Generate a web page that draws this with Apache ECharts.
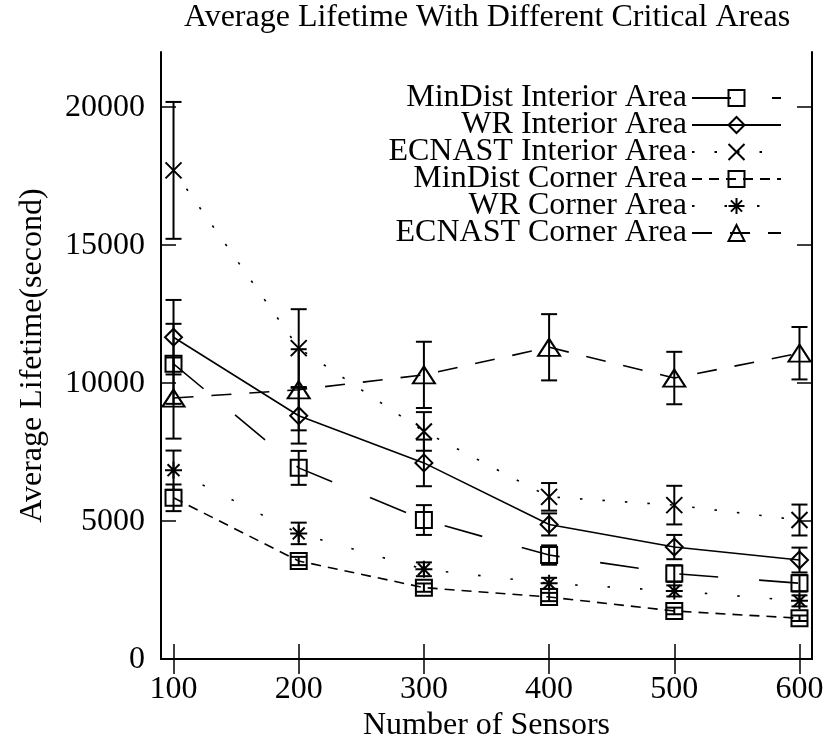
<!DOCTYPE html>
<html>
<head>
<meta charset="utf-8">
<script src="https://cdn.jsdelivr.net/npm/echarts@6/dist/echarts.min.js"></script>
<style>
  html, body { margin: 0; padding: 0; background: #fff; }
  #chart { width: 828px; height: 747px; }
</style>
</head>
<body>
<div id="chart"></div>
<script>
// Number of sensors on the x axis
const sensors = [100, 200, 300, 400, 500, 600];
const xTicks = [100, 200, 300, 400, 500, 600];
const yTicks = [0, 5000, 10000, 15000, 20000];

// Mean lifetime (seconds) and error-bar half widths for each configuration
const minDistInterior    = [10700, 6930, 5040, 3770, 3100, 2750];
const minDistInteriorErr = [1450, 615, 540, 350, 300, 300];
const wrInterior         = [11665, 8820, 7110, 4880, 4060, 3590];
const wrInteriorErr      = [1350, 1010, 845, 400, 440, 450];
const ecnastInterior     = [17710, 11270, 8250, 5880, 5580, 5040];
const ecnastInteriorErr  = [2480, 1410, 700, 500, 700, 560];
const minDistCorner      = [5845, 3555, 2590, 2250, 1745, 1480];
const minDistCornerErr   = [483, 150, 150, 150, 120, 100];
const wrCorner           = [6845, 4555, 3255, 2745, 2470, 2110];
const wrCornerErr        = [712, 390, 250, 200, 200, 200];
const ecnastCorner       = [9460, 9760, 10300, 11300, 10185, 11085];
const ecnastCornerErr    = [1470, 1470, 1200, 1200, 950, 950];

const FONT = "'Liberation Serif', 'Times New Roman', serif";
const FS = 32;

// Point shapes drawn as outlines
const SYM_X = 'path://M0,0L10,10M10,0L0,10';
const SYM_STAR = 'path://M5,0L5,10M0,5L10,5M1.5,1.5L8.5,8.5M8.5,1.5L1.5,8.5';

const seriesDefs = [
  { name: 'MinDist Interior Area', values: minDistInterior, err: minDistInteriorErr,
    symbol: 'rect', size: 16, dash: [39, 41] },
  { name: 'WR Interior Area', values: wrInterior, err: wrInteriorErr,
    symbol: 'diamond', size: 17, dash: 'solid' },
  { name: 'ECNAST Interior Area', values: ecnastInterior, err: ecnastInteriorErr,
    symbol: SYM_X, size: 16, dash: [2.5, 20] },
  { name: 'MinDist Corner Area', values: minDistCorner, err: minDistCornerErr,
    symbol: 'rect', size: 16, dash: [10, 7] },
  { name: 'WR Corner Area', values: wrCorner, err: wrCornerErr,
    symbol: SYM_STAR, size: 17, dash: [2.5, 30] },
  { name: 'ECNAST Corner Area', values: ecnastCorner, err: ecnastCornerErr,
    symbol: 'triangle', size: [22, 17], dash: [20, 18] }
];

// Error bars: vertical segment with a short cap at each end
const errorData = [];
seriesDefs.forEach(function (s) {
  sensors.forEach(function (x, i) {
    errorData.push([x, s.values[i], s.err[i]]);
  });
});

function renderErrorBar(params, api) {
  const x = api.value(0), y = api.value(1), e = api.value(2);
  const hi = api.coord([x, y + e]);
  const lo = api.coord([x, y - e]);
  const w = 8;
  const st = { stroke: '#000', lineWidth: 2 };
  return {
    type: 'group',
    children: [
      { type: 'line', shape: { x1: hi[0], y1: hi[1], x2: lo[0], y2: lo[1] }, style: st },
      { type: 'line', shape: { x1: hi[0] - w, y1: hi[1], x2: hi[0] + w, y2: hi[1] }, style: st },
      { type: 'line', shape: { x1: lo[0] - w, y1: lo[1], x2: lo[0] + w, y2: lo[1] }, style: st }
    ]
  };
}

const lineSeries = seriesDefs.map(function (s) {
  return {
    name: s.name,
    type: 'line',
    data: sensors.map(function (x, i) { return [x, s.values[i]]; }),
    symbol: s.symbol,
    symbolSize: s.size,
    showAllSymbol: true,
    animation: false,
    z: 3,
    lineStyle: { color: '#000', width: 1.6, type: s.dash },
    itemStyle: { color: 'rgba(0,0,0,0)', borderColor: '#000', borderWidth: 2 },
    emphasis: { disabled: true }
  };
});

const tickLabelStyle = { fontFamily: FONT, fontSize: FS, color: '#000' };
const axisLineStyle = { show: true, lineStyle: { color: '#000', width: 2 } };
const plainNumber = function (v) { return String(v); };

const chart = echarts.init(document.getElementById('chart'), null, { renderer: 'canvas' });
chart.setOption({
  animation: false,
  backgroundColor: '#fff',
  graphic: [{
    type: 'text',
    x: 487, y: 18,
    style: {
      text: 'Average Lifetime With Different Critical Areas',
      font: FS + 'px ' + FONT,
      fill: '#000',
      textAlign: 'center',
      textVerticalAlign: 'middle'
    }
  }],
  grid: { left: 161, right: 16, top: 52, bottom: 87, containLabel: false },
  legend: {
    data: seriesDefs.map(function (s) { return s.name; }),
    orient: 'vertical',
    align: 'right',
    right: 46,
    top: 82,
    padding: 0,
    itemGap: -5,
    itemWidth: 89,
    itemHeight: 20,
    selectedMode: false,
    textStyle: { fontFamily: FONT, fontSize: FS, color: '#000' }
  },
  xAxis: [{
    type: 'value', min: 90, max: 610, position: 'bottom',
    name: 'Number of Sensors', nameLocation: 'middle', nameGap: 38,
    nameTextStyle: { fontFamily: FONT, fontSize: FS, color: '#000' },
    axisLine: axisLineStyle,
    axisTick: { show: true, inside: true, length: 15, customValues: xTicks, lineStyle: { color: '#000', width: 1.5 } },
    axisLabel: { customValues: xTicks, margin: 14, formatter: plainNumber, ...tickLabelStyle },
    splitLine: { show: false }
  }, {
    type: 'value', min: 90, max: 610, position: 'top',
    axisLine: axisLineStyle,
    axisTick: { show: true, inside: true, length: 15, customValues: xTicks, lineStyle: { color: '#000', width: 1.5 } },
    axisLabel: { show: false },
    splitLine: { show: false }
  }],
  yAxis: [{
    type: 'value', min: 0, max: 22000, position: 'left',
    name: 'Average Lifetime(second)', nameLocation: 'middle', nameGap: 112,
    nameTextStyle: { fontFamily: FONT, fontSize: FS, color: '#000' },
    axisLine: axisLineStyle,
    axisTick: { show: true, inside: true, length: 15, customValues: yTicks, lineStyle: { color: '#000', width: 1.5 } },
    axisLabel: { customValues: yTicks, margin: 16, formatter: plainNumber, ...tickLabelStyle },
    splitLine: { show: false }
  }, {
    type: 'value', min: 0, max: 22000, position: 'right',
    axisLine: axisLineStyle,
    axisTick: { show: true, inside: true, length: 15, customValues: yTicks, lineStyle: { color: '#000', width: 1.5 } },
    axisLabel: { show: false },
    splitLine: { show: false }
  }],
  series: [{
    name: 'error bars',
    type: 'custom',
    renderItem: renderErrorBar,
    dimensions: ['x', 'y', 'err'],
    encode: { x: 0, y: 1 },
    data: errorData,
    z: 2,
    silent: true
  }].concat(lineSeries)
});
</script>
</body>
</html>
